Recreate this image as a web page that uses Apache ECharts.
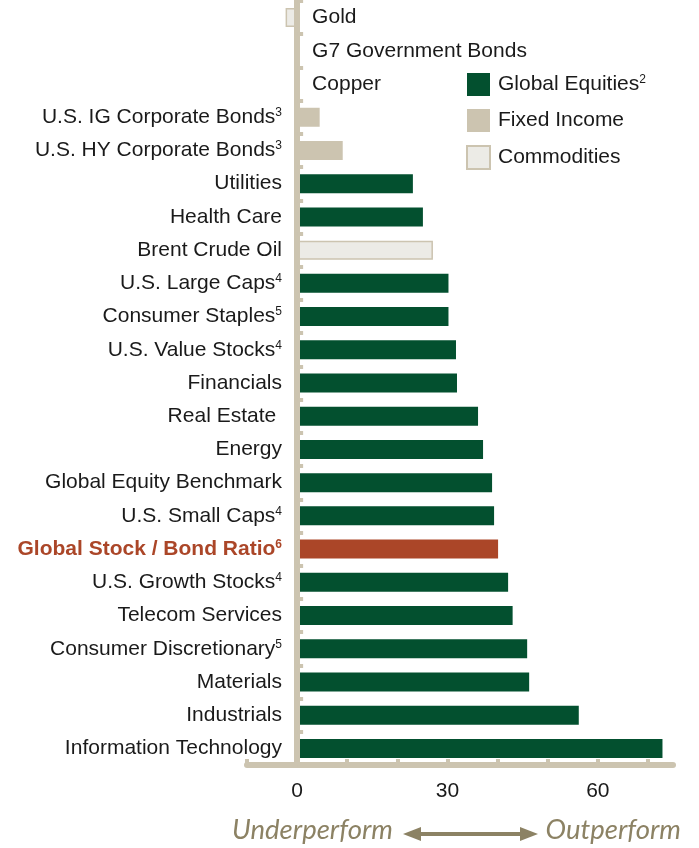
<!DOCTYPE html>
<html>
<head>
<meta charset="utf-8">
<script src="https://cdn.jsdelivr.net/npm/echarts@6/dist/echarts.min.js"></script>
<style>
html, body { margin: 0; padding: 0; background: #fff; }
#main { width: 699px; height: 848px; }
</style>
</head>
<body>
<div id="main"></div>
<script>
// categories top to bottom
var categories = ['Gold', 'G7 Government Bonds', 'Copper', 'U.S. IG Corporate Bonds', 'U.S. HY Corporate Bonds',
  'Utilities', 'Health Care', 'Brent Crude Oil', 'U.S. Large Caps', 'Consumer Staples', 'U.S. Value Stocks',
  'Financials', 'Real Estate ', 'Energy', 'Global Equity Benchmark', 'U.S. Small Caps', 'Global Stock / Bond Ratio',
  'U.S. Growth Stocks', 'Telecom Services', 'Consumer Discretionary', 'Materials', 'Industrials', 'Information Technology'];
// footnote numbers shown as superscripts
var notes = ['', '', '', '3', '3', '', '', '', '4', '5', '4', '', '', '', '', '4', '6', '4', '', '5', '', '', ''];
// e = equities, f = fixed income, c = commodities, r = stock/bond ratio
var groups = ['c', 'f', 'c', 'f', 'f', 'e', 'e', 'c', 'e', 'e', 'e', 'e', 'e', 'e', 'e', 'e', 'r', 'e', 'e', 'e', 'e', 'e', 'e'];
var values = [-2.3, 0, 0, 4.5, 9.1, 23.1, 25.1, 27.1, 30.2, 30.2, 31.7, 31.9, 36.1, 37.1, 38.9, 39.3, 40.1, 42.1, 43.0, 45.9, 46.3, 56.2, 72.9];
// categories whose name sits right of the axis
var rightNamed = [0, 1, 2];
var tickValues = [-10, 0, 10, 20, 30, 40, 50, 60, 70];
var tickLabels = [0, 30, 60];

var GREEN = '#03502F', TAN = '#CCC4B0', LIGHT = '#ECEBE6', RED = '#AB4628', OLIVE = '#8C8264';
var FONT = "'Liberation Sans', Arial, Helvetica, sans-serif";
var FS = 21;

function pick(g) {
  return values.map(function (v, i) { return groups[i] === g ? v : '-'; });
}

var dom = document.getElementById('main');
var myChart = echarts.init(dom);

var option = {
  animation: false,
  textStyle: { fontFamily: FONT },
  grid: { left: 247, right: 26, top: 1, bottom: 83, containLabel: false, outerBoundsMode: 'none' },
  legend: {
    orient: 'vertical',
    left: 466,
    top: 73,
    padding: 0,
    itemWidth: 23,
    itemHeight: 23,
    itemGap: 13,
    icon: 'rect',
    data: ['Global Equities', 'Fixed Income', 'Commodities'],
    formatter: function (name) {
      return name === 'Global Equities' ? '{a|' + name + '}{s|2}' : '{a|' + name + '}';
    },
    textStyle: {
      padding: [0, 0, 0, 3],
      rich: {
        a: { fontSize: FS, color: '#1a1a1a', fontFamily: FONT },
        s: { fontSize: 12, color: '#1a1a1a', fontFamily: FONT, verticalAlign: 'top' }
      }
    }
  },
  xAxis: {
    type: 'value',
    min: -10,
    max: 75,
    interval: 10,
    z: 3,
    splitLine: { show: false },
    axisLine: { show: true, onZero: false, lineStyle: { color: TAN, width: 6 } },
    axisTick: { show: true, inside: true, length: 6, customValues: tickValues, lineStyle: { color: TAN, width: 4 } },
    axisLabel: { customValues: tickLabels, margin: 16, fontSize: FS, color: '#1a1a1a', fontFamily: FONT }
  },
  yAxis: {
    type: 'category',
    inverse: true,
    data: categories,
    z: 3,
    axisLine: { show: true, onZero: true, lineStyle: { color: TAN, width: 6 } },
    axisTick: { show: true, inside: true, length: 6, lineStyle: { color: TAN, width: 4 } },
    axisLabel: {
      // labels sit at the grid edge; pull them over to the zero line
      margin: -35,
      interval: 0,
      formatter: function (name, i) {
        if (rightNamed.indexOf(i) >= 0) return '';
        var key = groups[i] === 'r' ? 'r' : 'n';
        var s = '{' + key + '|' + name + '}';
        if (notes[i]) s += '{' + key + 's|' + notes[i] + '}';
        return s;
      },
      rich: {
        n: { fontSize: FS, color: '#1a1a1a', fontFamily: FONT },
        ns: { fontSize: 12, color: '#1a1a1a', fontFamily: FONT, verticalAlign: 'top' },
        r: { fontSize: FS, color: RED, fontWeight: 'bold', fontFamily: FONT },
        rs: { fontSize: 12, color: RED, fontWeight: 'bold', fontFamily: FONT, verticalAlign: 'top' }
      }
    }
  },
  series: [
    {
      name: 'labels',
      type: 'bar',
      stack: 'all',
      barWidth: 19,
      itemStyle: { color: 'transparent' },
      label: {
        show: true,
        position: 'right',
        distance: 15,
        fontSize: FS,
        color: '#1a1a1a',
        fontFamily: FONT,
        formatter: function (p) { return p.name; }
      },
      data: categories.map(function (c, i) { return rightNamed.indexOf(i) >= 0 ? 0 : '-'; })
    },
    {
      name: 'Global Equities',
      type: 'bar',
      stack: 'all',
      barWidth: 19,
      itemStyle: { color: GREEN },
      data: pick('e')
    },
    {
      name: 'Fixed Income',
      type: 'bar',
      stack: 'all',
      barWidth: 19,
      itemStyle: { color: TAN },
      data: pick('f')
    },
    {
      name: 'Commodities',
      type: 'bar',
      stack: 'all',
      barWidth: 19,
      itemStyle: { color: LIGHT, borderColor: TAN, borderWidth: 1.5 },
      data: pick('c')
    },
    {
      name: 'Global Stock / Bond Ratio',
      type: 'bar',
      stack: 'all',
      barWidth: 19,
      itemStyle: { color: RED },
      data: pick('r')
    }
  ],
  graphic: [
    {
      type: 'text', left: 232, top: 817,
      style: { text: 'Underperform', font: 'italic 27.5px Lato', fill: OLIVE }
    },
    {
      type: 'text', right: 18, top: 817,
      style: { text: 'Outperform', font: 'italic 27.5px Lato', fill: OLIVE }
    },
    {
      type: 'line',
      shape: { x1: 416, y1: 834, x2: 525, y2: 834 },
      style: { stroke: OLIVE, lineWidth: 4 }
    },
    {
      type: 'polygon',
      shape: { points: [[403, 834], [421, 827], [421, 841]] },
      style: { fill: OLIVE }
    },
    {
      type: 'polygon',
      shape: { points: [[538, 834], [520, 827], [520, 841]] },
      style: { fill: OLIVE }
    }
  ]
};

if (option && typeof option === 'object') {
  myChart.setOption(option, true);
}
</script>
</body>
</html>
